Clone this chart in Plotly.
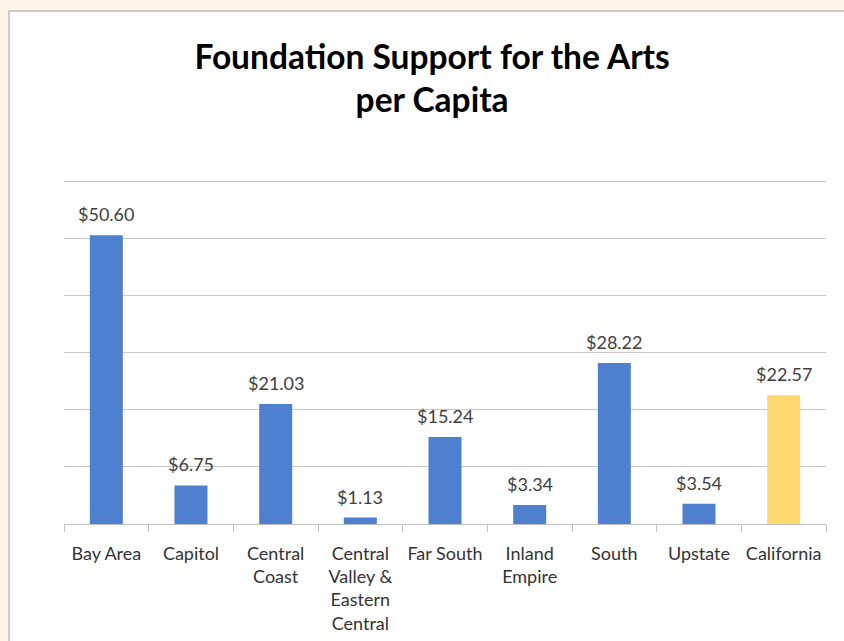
import plotly.graph_objects as go

categories = ["Bay Area", "Capitol", "Central<br>Coast", "Central<br>Valley &<br>Eastern<br>Central",
              "Far South", "Inland<br>Empire", "South", "Upstate", "California"]
values = [50.60, 6.75, 21.03, 1.13, 15.24, 3.34, 28.22, 3.54, 22.57]
labels = ["$50.60", "$6.75", "$21.03", "$1.13", "$15.24", "$3.34", "$28.22", "$3.54", "$22.57"]
colors = ["#4F80CF"] * 8 + ["#FFD96F"]

FONT = "Lato"

fig = go.Figure()
fig.add_trace(go.Bar(
    x=categories, y=values,
    marker=dict(color=colors, line=dict(width=0)),
    hoverinfo="skip",
))

for c, v, t in zip(categories, values, labels):
    fig.add_annotation(x=c, y=v, text=t, showarrow=False, yanchor="bottom", yshift=8,
                       font=dict(family=FONT, size=18, color="#404040"))

W, H = 844, 641
YMAX = 61
L, R, B = 64, 18, 117
PX_PER_UNIT = 5.7
T = round(H - B - YMAX * PX_PER_UNIT)
pw, ph = W - L - R, H - T - B

fig.add_shape(type="rect", xref="paper", yref="paper",
              x0=(9 - L) / pw, x1=1.2, y0=-1.0, y1=(H - B - 11) / ph,
              fillcolor="white", line=dict(color="#BDBDBD", width=1.5), layer="below")

fig.update_layout(
    width=W, height=H,
    margin=dict(l=L, r=R, t=T, b=B, autoexpand=False),
    paper_bgcolor="#FDF5E8",
    plot_bgcolor="rgba(0,0,0,0)",
    bargap=0.61,
    showlegend=False,
    title=dict(text="<b>Foundation Support for the Arts<br>per Capita</b>",
               x=0.512, xanchor="center", xref="container", yref="container",
               y=0.893, yanchor="top", automargin=False,
               font=dict(family=FONT, size=33.5, color="#000000")),
    xaxis=dict(showline=True, linecolor="#BFBFBF", linewidth=1, ticks="outside",
               tickson="boundaries", ticklen=7, tickcolor="#BFBFBF", ticklabelstandoff=13,
               automargin=False,
               tickfont=dict(family=FONT, size=18, color="#333333"), fixedrange=True),
    yaxis=dict(range=[0, YMAX], tickvals=[10, 20, 30, 40, 50, 60], showticklabels=False,
               showgrid=True, automargin=False,
               gridcolor="#C8C8C8", gridwidth=1, zeroline=False, showline=False, fixedrange=True),
)

fig.write_html("out.html", config={"displayModeBar": False},
               post_script="document.body.style.margin='0';document.body.style.background='#FDF5E8';document.body.style.overflow='hidden';")
